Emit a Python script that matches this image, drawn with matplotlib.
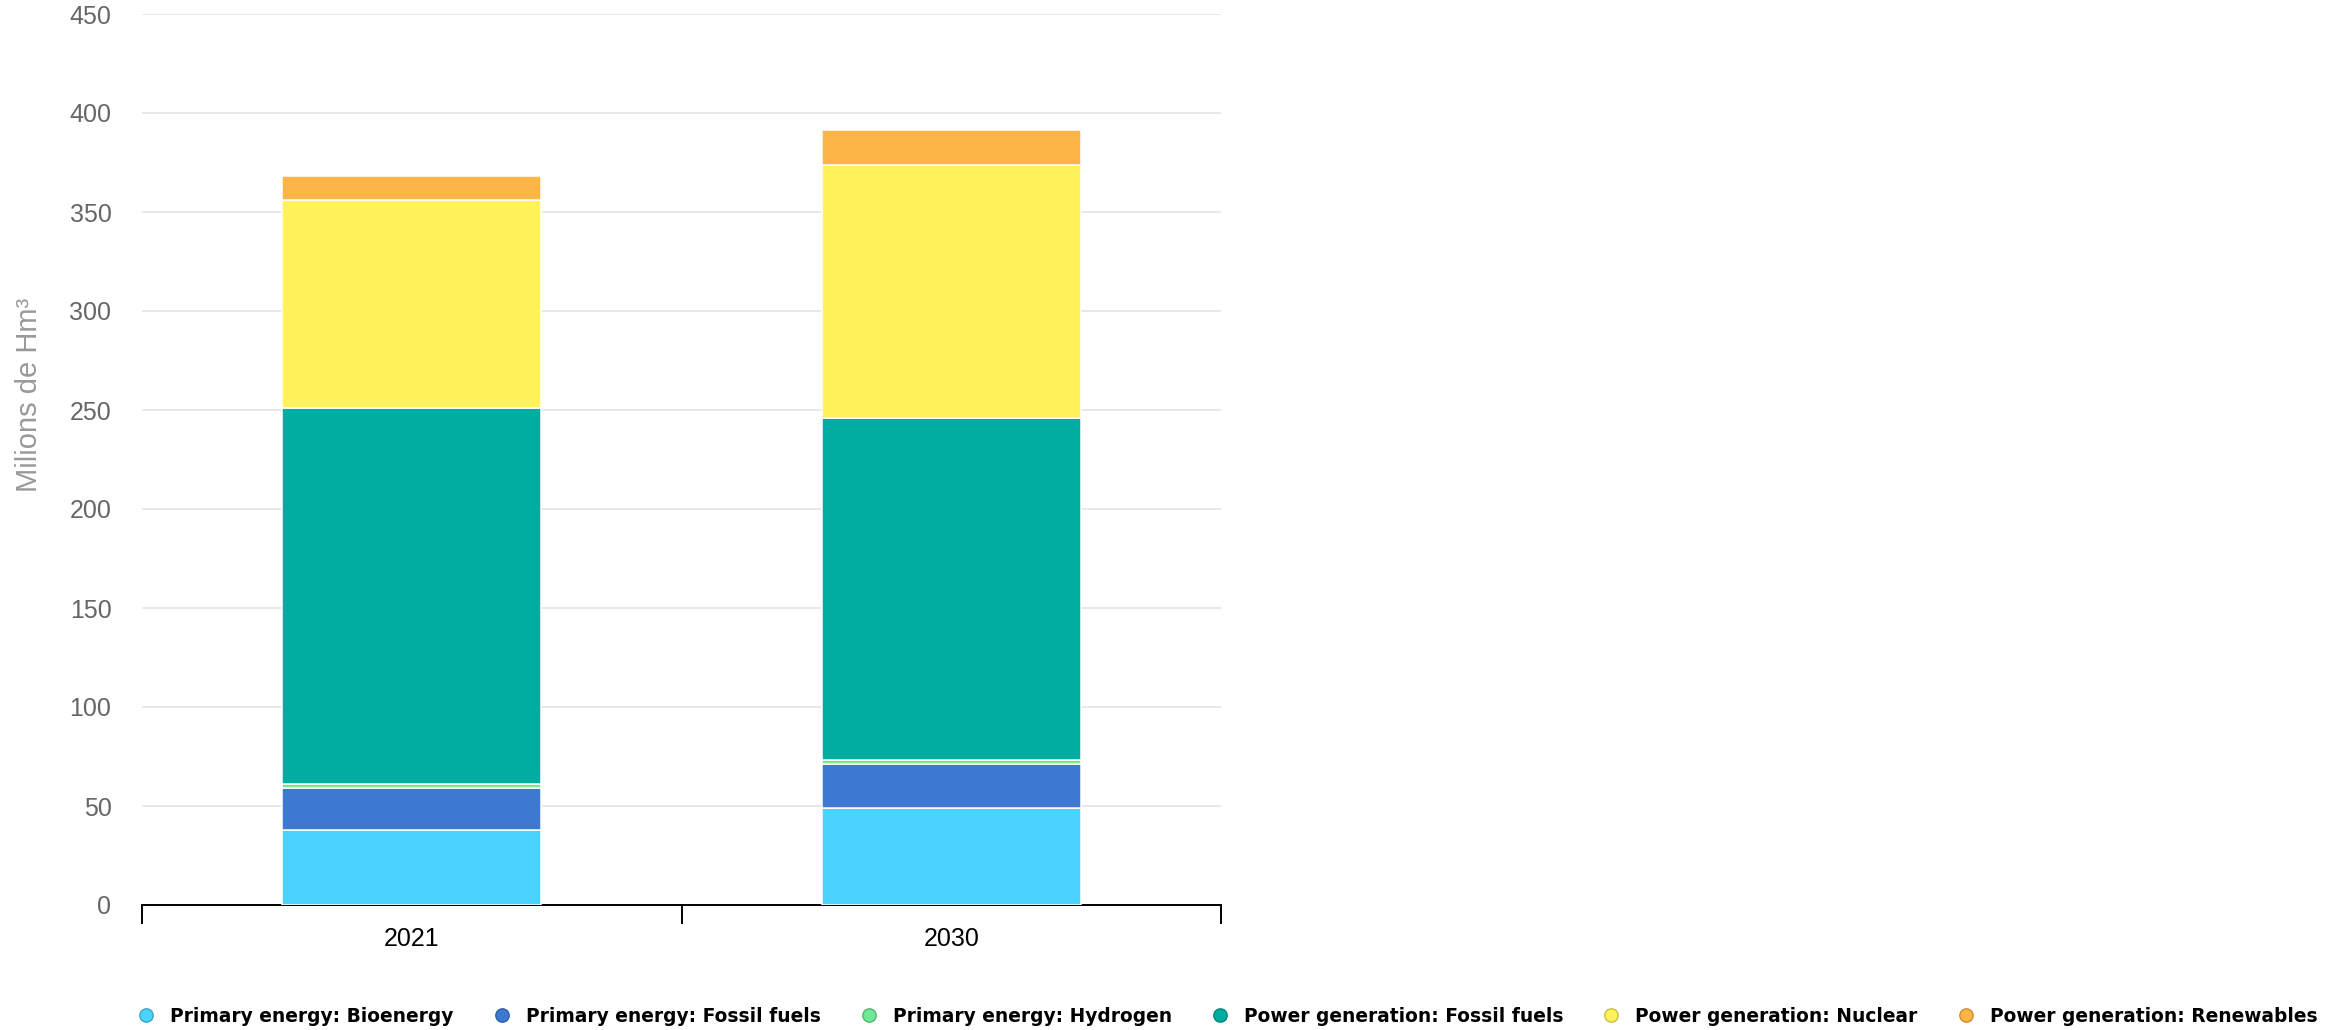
import numpy as np
import matplotlib
matplotlib.use("Agg")
import matplotlib.pyplot as plt
from matplotlib.lines import Line2D
from matplotlib.ticker import FixedLocator

# data (Millions of Hm3)
years = ["2021", "2030"]
series_names = [
    "Primary energy: Bioenergy",
    "Primary energy: Fossil fuels",
    "Primary energy: Hydrogen",
    "Power generation: Fossil fuels",
    "Power generation: Nuclear",
    "Power generation: Renewables",
]
bioenergy = [38, 49]
primary_fossil = [21, 22]
hydrogen = [2, 2]
power_fossil = [190, 173]
nuclear = [105, 127.5]
renewables = [12, 18]

colors = ["#49d3fe", "#3d78d3", "#6fe898", "#00ada0", "#fff25a", "#ffb545"]
edge_colors = ["#3aa6c8", "#2f5ea6", "#55b577", "#00857b", "#c8be45", "#c88d35"]

values = [bioenergy, primary_fossil, hydrogen, power_fossil, nuclear, renewables]

plt.rcParams['font.family'] = ['Liberation Sans', 'DejaVu Sans']

fig = plt.figure(figsize=(23.46, 10.30), dpi=100)
ax = fig.add_axes([142 / 2346, 1 - 905 / 1030, (1221 - 142) / 2346, 891 / 1030])

x = np.arange(len(years))
bottom = np.zeros(len(years))
for vals, col in zip(values, colors):
    ax.bar(x, vals, width=0.48, bottom=bottom, color=col,
           edgecolor="white", linewidth=1.1, zorder=3)
    bottom += np.array(vals)

ax.set_xlim(-0.5, 1.5)
ax.set_ylim(0, 450)
ax.set_yticks(np.arange(0, 451, 50))
ax.grid(axis="y", color="#e6e6e6", linewidth=1.3)
ax.set_axisbelow(True)

for s in ["top", "left", "right"]:
    ax.spines[s].set_visible(False)
ax.spines["bottom"].set_color("black")
ax.spines["bottom"].set_linewidth(1.4)

ax.set_xticks(x)
ax.set_xticklabels(years)
ax.xaxis.set_minor_locator(FixedLocator([-0.5, 0.5, 1.5]))
ax.tick_params(axis="x", which="major", length=0, pad=16, labelsize=18, labelcolor="black")
ax.tick_params(axis="x", which="minor", length=14, width=1.4, color="black")
ax.tick_params(axis="y", length=0, pad=22, labelsize=18, labelcolor="#666666")

fig.text(29 / 2346, 1 - 395 / 1030, "Milions de Hm³", rotation=90,
         ha="center", va="center", fontsize=21, color="#999999")

handles = [Line2D([0], [0], marker="o", linestyle="none", markersize=9.6,
                  markerfacecolor=c, markeredgecolor=ec, markeredgewidth=1)
           for c, ec in zip(colors, edge_colors)]
fig.legend(handles, series_names, loc="center left",
           bbox_to_anchor=(137 / 2346, 1 - 1016 / 1030), ncol=6,
           frameon=False, borderpad=0, borderaxespad=0,
           handlelength=1.0, handletextpad=0.79, columnspacing=2.08,
           prop={"family": "DejaVu Sans", "weight": "bold", "size": 13.4})

fig.savefig("out.png", dpi=100)
